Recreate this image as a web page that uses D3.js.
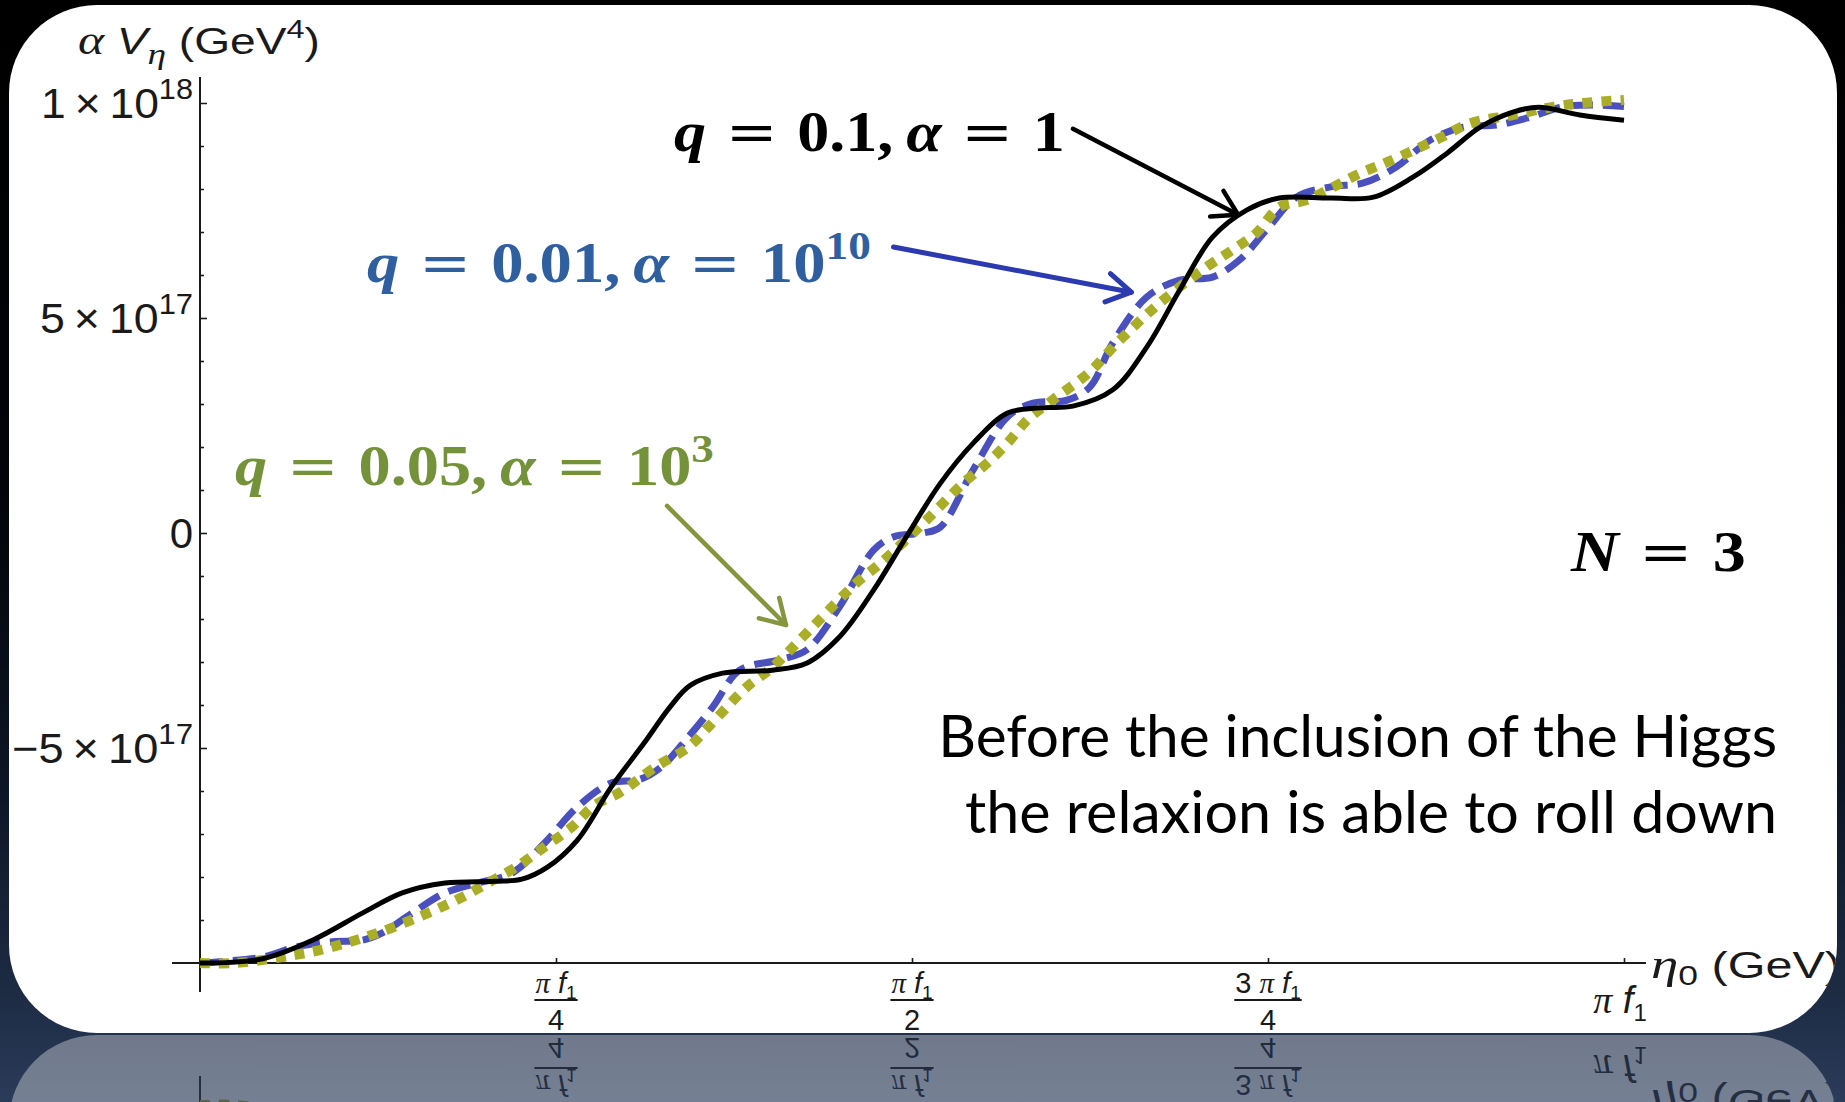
<!DOCTYPE html>
<html>
<head>
<meta charset="utf-8">
<script src="https://cdn.jsdelivr.net/npm/d3@7"></script>
<style>
html, body { margin: 0; padding: 0; background: #000; overflow: hidden; }
svg { display: block; }
text { white-space: pre; }
</style>
</head>
<body>
<svg id="slide"></svg>
<script>
const width = 1845;
const height = 1102;

// eta_0 in units of pi*f1, alpha*V in units of 1e17 GeV^4
const blackT = [0, 0.044, 0.079, 0.114, 0.142, 0.172, 0.207, 0.226, 0.244, 0.265,
    0.289, 0.312, 0.330, 0.344, 0.367, 0.402, 0.426, 0.449, 0.473, 0.496,
    0.520, 0.543, 0.567, 0.590, 0.613, 0.641, 0.665, 0.688, 0.711, 0.735,
    0.758, 0.794, 0.824, 0.852, 0.876, 0.899, 0.922, 0.940, 0.969, 1.0];
const blackV = [-10, -9.90, -9.47, -8.84, -8.37, -8.14, -8.10, -8.05, -7.77, -7.14,
    -5.90, -4.88, -4.05, -3.55, -3.26, -3.19, -3.03, -2.42, -1.33, -0.09,
    1.16, 2.09, 2.79, 2.91, 2.95, 3.33, 4.33, 5.65, 6.88, 7.51,
    7.79, 7.79, 7.81, 8.28, 8.84, 9.44, 9.79, 9.90, 9.72, 9.60];

const blueT = [0, 0.044, 0.067, 0.095, 0.114, 0.128, 0.149, 0.172, 0.195, 0.219,
    0.242, 0.265, 0.289, 0.308, 0.324, 0.343, 0.360, 0.379, 0.407, 0.426,
    0.449, 0.473, 0.487, 0.508, 0.520, 0.543, 0.567, 0.585, 0.609, 0.625,
    0.641, 0.665, 0.688, 0.711, 0.730, 0.749, 0.770, 0.794, 0.817, 0.840,
    0.864, 0.887, 0.911, 0.934, 0.957, 0.983, 1.0];
const blueV = [-10, -9.86, -9.63, -9.50, -9.47, -9.30, -8.84, -8.37, -8.14, -7.91,
    -7.21, -6.37, -5.81, -5.74, -5.44, -4.74, -4.05, -3.19, -2.95, -2.72,
    -1.72, -0.40, -0.09, 0.00, 0.14, 1.47, 2.70, 3.02, 3.09, 3.40,
    4.42, 5.49, 5.88, 5.95, 6.35, 7.05, 7.81, 8.05, 8.14, 8.51,
    9.14, 9.44, 9.49, 9.67, 9.91, 9.95, 9.92];

const greenT = [0, 0.025, 0.067, 0.090, 0.125, 0.160, 0.184, 0.202, 0.221, 0.242,
    0.261, 0.277, 0.294, 0.320, 0.343, 0.357, 0.384, 0.402, 0.430, 0.461,
    0.478, 0.508, 0.536, 0.553, 0.567, 0.581, 0.597, 0.625, 0.644, 0.674,
    0.707, 0.725, 0.742, 0.758, 0.777, 0.796, 0.815, 0.834, 0.871, 0.892,
    0.922, 0.950, 0.971, 1.0];
const greenV = [-10, -10, -9.81, -9.65, -9.30, -8.84, -8.47, -8.14, -7.79, -7.30,
    -6.84, -6.33, -6.05, -5.44, -4.98, -4.51, -3.58, -3.12, -2.19, -1.16,
    -0.70, 0.23, 1.16, 1.63, 2.09, 2.63, 3.05, 3.75, 4.42, 5.35,
    6.19, 6.58, 6.98, 7.58, 7.74, 8.05, 8.37, 8.63, 9.19, 9.53,
    9.72, 9.91, 10.00, 10.07];

const yMajorTicks = [-5, 0, 5, 10];
const yMajorMant = ['\u22125', '0', '5', '1'];
const yMajorExp = ['17', '', '17', '18'];
const yMinorTicks = [-9, -8, -7, -6, -4, -3, -2, -1, 1, 2, 3, 4, 6, 7, 8, 9];

const xTicks = [0.25, 0.5, 0.75, 1];
const xTickCoef = ['', '', '3', ''];
const xTickDen = ['4', '2', '4', ''];

// arrows: [start t, start v, tip t, tip v]
const arrowBlack = [0.613, 9.40, 0.729, 7.40];
const arrowBlue = [0.487, 6.65, 0.654, 5.60];
const arrowGreen = [0.328, 0.63, 0.4115, -2.14];

const svg = d3.select('#slide').attr('width', width).attr('height', height);
const defs = svg.append('defs');

const bg = defs.append('linearGradient').attr('id', 'bg')
    .attr('x1', 0).attr('y1', 0).attr('x2', 0).attr('y2', 1);
[[0, '#000000'], [0.45, '#020409'], [0.72, '#0d1626'], [0.9, '#1d2b43'], [1, '#2b3c5a']]
    .forEach(s => bg.append('stop').attr('offset', s[0]).attr('stop-color', s[1]));

svg.append('rect').attr('width', width).attr('height', height).attr('fill', 'url(#bg)');

const card = {x: 9, y: 5, w: 1828, h: 1028, r: 88};
const mirrorY = 1034;

defs.append('clipPath').attr('id', 'cardClip')
    .append('rect')
    .attr('x', card.x).attr('y', card.y)
    .attr('width', card.w).attr('height', card.h)
    .attr('rx', card.r).attr('ry', card.r);

const cardG = svg.append('g').attr('id', 'card');
cardG.append('rect')
    .attr('x', card.x).attr('y', card.y)
    .attr('width', card.w).attr('height', card.h)
    .attr('rx', card.r).attr('ry', card.r)
    .attr('fill', '#fff');

const plot = cardG.append('g').attr('clip-path', 'url(#cardClip)');

const x = d3.scaleLinear().domain([0, 1]).range([200, 1624]);
const y = d3.scaleLinear().domain([-10, 10]).range([963, 103]);

const sans = 'Liberation Sans, Arial, sans-serif';
const serif = 'Liberation Serif, Times New Roman, serif';
const wideSerif = 'DejaVu Serif, serif';

function mathText(parent, px, py, parts, base) {
    const t = parent.append('text').attr('x', px).attr('y', py)
        .attr('font-family', base.family).attr('font-size', base.size)
        .attr('font-weight', base.weight || 'normal')
        .attr('fill', base.fill || '#000')
        .attr('text-anchor', base.anchor || 'start');
    let shift = 0;
    parts.forEach(p => {
        const s = p.shift || 0;
        const ts = t.append('tspan').text(p.text).attr('dy', s - shift);
        shift = s;
        if (p.family) ts.attr('font-family', p.family);
        if (p.italic) ts.attr('font-style', 'italic');
        if (p.size) ts.attr('font-size', p.size);
        if (p.weight) ts.attr('font-weight', p.weight);
    });
    return t;
}

function fitWidth(t, x0, w) {
    const bw = t.node().getBBox().width;
    const sx = w / bw;
    t.attr('transform', `translate(${x0},0) scale(${sx},1) translate(${-x0},0)`);
}

// axes
const axisColor = '#1a1a1a';
plot.append('line')
    .attr('x1', x(0)).attr('x2', x(0))
    .attr('y1', y(10) - 26).attr('y2', y(-10) + 29)
    .attr('stroke', axisColor).attr('stroke-width', 2);
plot.append('line')
    .attr('x1', x(0) - 28).attr('x2', x(1) + 22)
    .attr('y1', y(-10)).attr('y2', y(-10))
    .attr('stroke', axisColor).attr('stroke-width', 2);

const yMinor = plot.append('g').attr('transform', `translate(${x(0)},0)`)
    .call(d3.axisLeft(y).tickValues(yMinorTicks).tickSize(-4).tickFormat(''));
const yMajor = plot.append('g').attr('transform', `translate(${x(0)},0)`)
    .call(d3.axisLeft(y).tickValues(yMajorTicks).tickSize(-7).tickFormat(''));
const xAx = plot.append('g').attr('transform', `translate(0,${y(-10)})`)
    .call(d3.axisBottom(x).tickValues(xTicks).tickSize(-5).tickFormat(''));
[yMinor, yMajor, xAx].forEach(g => {
    g.select('.domain').remove();
    g.selectAll('line').attr('stroke', axisColor).attr('stroke-width', 1.6);
});

// y tick labels
yMajorTicks.forEach((v, i) => {
    const parts = [{text: yMajorMant[i]}];
    if (yMajorExp[i]) {
        parts[0].text = yMajorMant[i] + '\u2009\u00d7\u200910';
        parts.push({text: yMajorExp[i], size: 29, shift: -19});
    }
    const t = mathText(plot, 193, y(v) + 15, parts, {family: sans, size: 42, fill: '#1a1a1a', anchor: 'end'});
    if (yMajorExp[i]) fitWidth(t, 193, yMajorMant[i] === '1' ? 152 : (v < 0 ? 181 : 153));
});

// x tick labels
xTicks.forEach((t, i) => {
    const cx = x(t);
    if (xTickDen[i]) {
        const parts = [];
        if (xTickCoef[i]) parts.push({text: xTickCoef[i] + ' '});
        parts.push({text: '\u03c0', family: serif, italic: true});
        parts.push({text: ' f', italic: true});
        parts.push({text: '1', size: 19, shift: 6});
        const num = mathText(plot, cx, 993, parts, {family: sans, size: 29, fill: '#1a1a1a', anchor: 'middle'});
        const nw = num.node().getBBox().width;
        plot.append('line')
            .attr('x1', cx - nw / 2 - 1).attr('x2', cx + nw / 2 + 1)
            .attr('y1', 1000).attr('y2', 1000)
            .attr('stroke', '#1a1a1a').attr('stroke-width', 2);
        plot.append('text').attr('x', cx).attr('y', 1030)
            .attr('text-anchor', 'middle')
            .attr('font-family', sans).attr('font-size', 29).attr('fill', '#1a1a1a')
            .text(xTickDen[i]);
    } else {
        mathText(plot, cx - 4, 1013, [
            {text: '\u03c0', family: serif, italic: true},
            {text: ' f', italic: true},
            {text: '1', size: 24, shift: 8}
        ], {family: sans, size: 38, fill: '#1a1a1a', anchor: 'middle'});
    }
});

// axis titles
const yTitle = mathText(plot, 78, 54, [
    {text: '\u03b1 ', family: serif, italic: true, size: 40},
    {text: 'V', italic: true},
    {text: '\u03b7', family: serif, italic: true, size: 30, shift: 10},
    {text: ' (GeV'},
    {text: '4', size: 26, shift: -16},
    {text: ')'}
], {family: sans, size: 37, fill: '#1a1a1a'});
fitWidth(yTitle, 78, 242);

const xTitle = mathText(plot, 1651, 978, [
    {text: '\u03b7', family: serif, italic: true, size: 42},
    {text: '0', size: 27, shift: 7},
    {text: ' (GeV)'}
], {family: sans, size: 37, fill: '#1a1a1a'});
fitWidth(xTitle, 1651, 190);

// curves
const line = d3.line()
    .x(d => x(d[0]))
    .y(d => y(d[1]))
    .curve(d3.curveCatmullRom.alpha(0.5));

plot.append('path')
    .datum(d3.zip(blueT, blueV))
    .attr('fill', 'none')
    .attr('stroke', '#4b50bf')
    .attr('stroke-width', 7)
    .attr('stroke-dasharray', '23 10')
    .attr('d', line);

plot.append('path')
    .datum(d3.zip(greenT, greenV))
    .attr('fill', 'none')
    .attr('stroke', '#a9ae26')
    .attr('stroke-width', 10)
    .attr('stroke-dasharray', '10 9')
    .attr('d', line);

plot.append('path')
    .datum(d3.zip(blackT, blackV))
    .attr('fill', 'none')
    .attr('stroke', '#000')
    .attr('stroke-width', 5)
    .attr('d', line);

// arrows
function arrow(a, color, w) {
    const x1 = x(a[0]), y1 = y(a[1]), x2 = x(a[2]), y2 = y(a[3]);
    const ang = Math.atan2(y2 - y1, x2 - x1);
    const len = 28, spread = 31 * Math.PI / 180;
    const g = plot.append('g').attr('stroke', color).attr('stroke-width', w)
        .attr('fill', 'none').attr('stroke-linecap', 'round').attr('stroke-linejoin', 'round');
    g.append('line').attr('x1', x1).attr('y1', y1).attr('x2', x2).attr('y2', y2);
    g.append('polyline').attr('points', [
        [x2 - len * Math.cos(ang - spread), y2 - len * Math.sin(ang - spread)],
        [x2, y2],
        [x2 - len * Math.cos(ang + spread), y2 - len * Math.sin(ang + spread)]
    ].map(p => p.join(',')).join(' '));
}
arrow(arrowBlack, '#000', 4.5);
arrow(arrowBlue, '#2b3aae', 5);
arrow(arrowGreen, '#86963f', 4.5);

// labels
const texBase = {family: serif, size: 57, weight: 'bold'};
const eqPart = {text: ' = ', family: wideSerif, weight: 'normal', size: 55};
const lblBlack = mathText(plot, 674, 151, [
    {text: 'q', italic: true}, eqPart, {text: '0.1,\u2009'}, {text: '\u03b1', italic: true}, eqPart, {text: '1'}
], Object.assign({fill: '#000'}, texBase));
fitWidth(lblBlack, 674, 391);

const lblBlue = mathText(plot, 367, 282, [
    {text: 'q', italic: true}, eqPart, {text: '0.01,\u2009'}, {text: '\u03b1', italic: true}, eqPart, {text: '10'},
    {text: '10', size: 40, shift: -23}
], Object.assign({fill: '#2f5f9f'}, texBase));
fitWidth(lblBlue, 367, 504);

const lblGreen = mathText(plot, 235, 485, [
    {text: 'q', italic: true}, eqPart, {text: '0.05,\u2009'}, {text: '\u03b1', italic: true}, eqPart, {text: '10'},
    {text: '3', size: 40, shift: -23}
], Object.assign({fill: '#74923a'}, texBase));
fitWidth(lblGreen, 235, 479);

const lblN = mathText(plot, 1571, 571, [
    {text: 'N', italic: true}, eqPart, {text: '3'}
], Object.assign({fill: '#000'}, texBase));
fitWidth(lblN, 1571, 176);

const note1 = plot.append('text').attr('x', 1777).attr('y', 757)
    .attr('text-anchor', 'end').attr('font-family', 'Lato, sans-serif')
    .attr('font-size', 58).attr('fill', '#000')
    .text('Before the inclusion of the Higgs');
fitWidth(note1, 1777, 839);
const note2 = plot.append('text').attr('x', 1777).attr('y', 833)
    .attr('text-anchor', 'end').attr('font-family', 'Lato, sans-serif')
    .attr('font-size', 58).attr('fill', '#000')
    .text('the relaxion is able to roll down');
fitWidth(note2, 1777, 812);

// reflection of the card below it
svg.append('use')
    .attr('href', '#card')
    .attr('transform', `matrix(1,0,0,-1,0,${2 * mirrorY})`)
    .attr('opacity', 0.35);
</script>
</body>
</html>
